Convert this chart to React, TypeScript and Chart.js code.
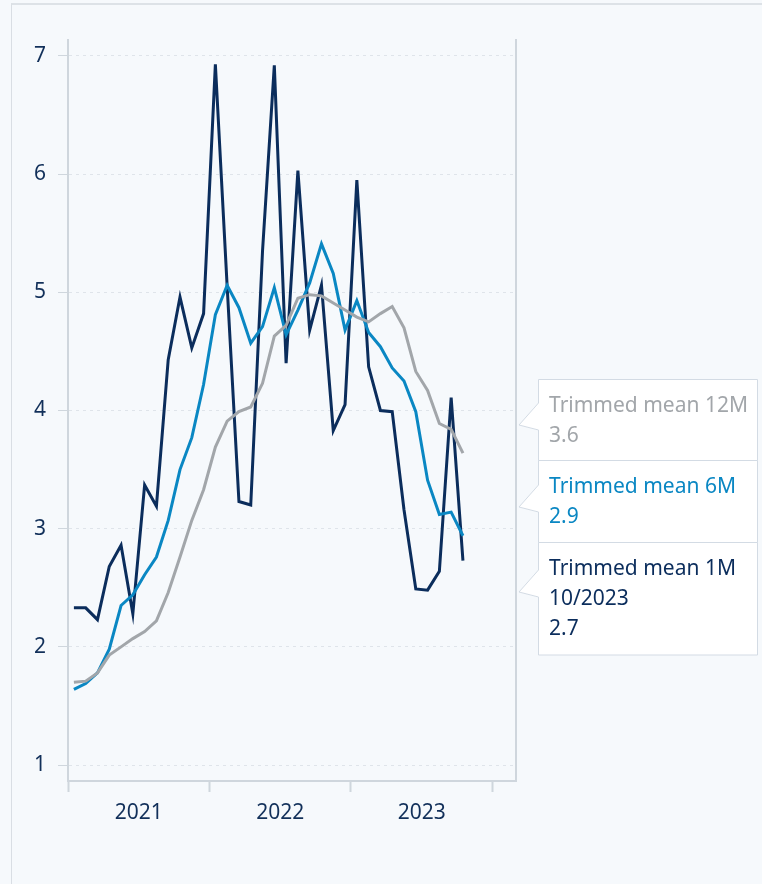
import React, { useEffect, useRef } from "react";
import { Chart, registerables } from "chart.js";

Chart.register(...registerables);

const MONTHS = [
  "01/2021", "02/2021", "03/2021", "04/2021", "05/2021", "06/2021", "07/2021", "08/2021", "09/2021", "10/2021", "11/2021", "12/2021",
  "01/2022", "02/2022", "03/2022", "04/2022", "05/2022", "06/2022", "07/2022", "08/2022", "09/2022", "10/2022", "11/2022", "12/2022",
  "01/2023", "02/2023", "03/2023", "04/2023", "05/2023", "06/2023", "07/2023", "08/2023", "09/2023", "10/2023",
];

const TRIMMED_1M = [
  2.33, 2.33, 2.23, 2.68, 2.86, 2.28, 3.37, 3.19, 4.43, 4.96, 4.53, 4.82,
  6.93, 5.05, 3.23, 3.2, 5.35, 6.92, 4.4, 6.03, 4.68, 5.06, 3.83, 4.05,
  5.95, 4.37, 4.0, 3.99, 3.16, 2.49, 2.48, 2.64, 4.11, 2.73,
];

const TRIMMED_6M = [
  1.64, 1.69, 1.78, 1.98, 2.35, 2.44, 2.61, 2.76, 3.07, 3.5, 3.77, 4.22,
  4.81, 5.06, 4.87, 4.57, 4.71, 5.04, 4.64, 4.85, 5.08, 5.41, 5.16, 4.68,
  4.93, 4.66, 4.54, 4.36, 4.25, 3.99, 3.41, 3.12, 3.14, 2.94,
];

const TRIMMED_12M = [
  1.7, 1.71, 1.78, 1.93, 2.0, 2.07, 2.13, 2.22, 2.46, 2.76, 3.07, 3.33,
  3.69, 3.91, 3.99, 4.03, 4.23, 4.63, 4.72, 4.95, 4.98, 4.97, 4.91, 4.85,
  4.79, 4.75, 4.82, 4.88, 4.7, 4.33, 4.17, 3.89, 3.84, 3.64,
];

const SERIES_NAMES = ["Trimmed mean 1M", "Trimmed mean 6M", "Trimmed mean 12M"];
const YEAR_LABELS = ["2021", "2022", "2023"];
const Y_TICKS = [1, 2, 3, 4, 5, 6, 7];

const COLOR_1M = "#0b2d5c";
const COLOR_6M = "#0a87c3";
const COLOR_12M = "#a2a6aa";
const TEXT_COLOR = "#12305a";
const AXIS_COLOR = "#cfd6dd";
const GRID_COLOR = "#dfe4ea";
const BG = "#f6f9fc";
const FONT = "'Noto Sans', sans-serif";

const toPoints = (arr: number[]) => arr.map((v, i) => ({ x: i + 0.5, y: v }));

const tooltipPlugin = {
  id: "splitTooltip",
  afterDraw(chart: any) {
    const ctx = chart.ctx as CanvasRenderingContext2D;
    const last = MONTHS.length - 1;
    const left = 538.5;
    const right = 757.5;
    const tipX = 519;
    const boxes = [
      { lines: [SERIES_NAMES[2], TRIMMED_12M[last].toFixed(1)], color: COLOR_12M, top: 379.5, bottom: 460.5, tip: 425 },
      { lines: [SERIES_NAMES[1], TRIMMED_6M[last].toFixed(1)], color: COLOR_6M, top: 460.5, bottom: 542.5, tip: 507 },
      { lines: [SERIES_NAMES[0], MONTHS[last], TRIMMED_1M[last].toFixed(1)], color: COLOR_1M, top: 542.5, bottom: 655, tip: 592 },
    ];
    ctx.save();
    for (const b of boxes) {
      ctx.beginPath();
      ctx.moveTo(left, b.top);
      ctx.lineTo(right, b.top);
      ctx.lineTo(right, b.bottom);
      ctx.lineTo(left, b.bottom);
      ctx.lineTo(left, b.tip + 5);
      ctx.lineTo(tipX, b.tip);
      ctx.lineTo(left, b.tip - 22);
      ctx.closePath();
      ctx.fillStyle = "#ffffff";
      ctx.fill();
      ctx.strokeStyle = "#d3dbe4";
      ctx.lineWidth = 1;
      ctx.stroke();
      ctx.fillStyle = b.color;
      ctx.font = `21px ${FONT}`;
      ctx.textBaseline = "middle";
      ctx.textAlign = "left";
      b.lines.forEach((t, k) => {
        ctx.fillText(t, 549, b.top + 26.5 + k * 30);
      });
    }
    ctx.restore();
  },
};

export default function App() {
  const ref = useRef<HTMLCanvasElement | null>(null);

  useEffect(() => {
    document.body.style.margin = "0";
    document.body.style.background = BG;
    if (!ref.current) return;
    const xTickValues: number[] = [];
    YEAR_LABELS.forEach((_, k) => {
      xTickValues.push(k * 12, k * 12 + 6);
    });
    xTickValues.push(YEAR_LABELS.length * 12);

    const chart = new Chart(ref.current, {
      type: "line",
      data: {
        datasets: [
          { label: SERIES_NAMES[2], data: toPoints(TRIMMED_12M), borderColor: COLOR_12M, borderWidth: 3, pointRadius: 0, tension: 0 },
          { label: SERIES_NAMES[1], data: toPoints(TRIMMED_6M), borderColor: COLOR_6M, borderWidth: 3, pointRadius: 0, tension: 0 },
          { label: SERIES_NAMES[0], data: toPoints(TRIMMED_1M), borderColor: COLOR_1M, borderWidth: 3, pointRadius: 0, tension: 0 },
        ],
      },
      options: {
        responsive: false,
        animation: false,
        events: [],
        layout: { padding: { left: 0, top: 40, right: 246, bottom: 43 } },
        plugins: { legend: { display: false }, tooltip: { enabled: false } },
        scales: {
          x: {
            type: "linear",
            min: 0,
            max: 38,
            afterBuildTicks: (scale: any) => {
              scale.ticks = xTickValues.map((v) => ({ value: v }));
            },
            afterFit: (scale: any) => {
              scale.height = 60;
            },
            ticks: {
              autoSkip: false,
              maxRotation: 0,
              padding: 8,
              color: TEXT_COLOR,
              font: { family: FONT, size: 21 },
              callback: (v: any) => {
                const n = Number(v);
                return n % 12 === 6 ? YEAR_LABELS[(n - 6) / 12] : "";
              },
            },
            grid: {
              drawOnChartArea: false,
              drawTicks: true,
              tickLength: 11,
              tickWidth: 2,
              tickColor: (c: any) => (c.tick && c.tick.value % 12 === 0 ? AXIS_COLOR : "rgba(0,0,0,0)"),
            },
            border: { display: true, color: AXIS_COLOR, width: 2 },
          },
          y: {
            type: "linear",
            min: 0.865,
            max: 7.135,
            afterBuildTicks: (scale: any) => {
              scale.ticks = Y_TICKS.map((v) => ({ value: v }));
            },
            afterFit: (scale: any) => {
              scale.width = 68;
            },
            ticks: {
              padding: 12,
              color: TEXT_COLOR,
              font: { family: FONT, size: 21 },
              callback: (v: any) => String(v),
            },
            grid: {
              color: GRID_COLOR,
              lineWidth: 1,
              drawTicks: true,
              tickLength: 10,
              tickColor: AXIS_COLOR,
              tickWidth: 1,
            },
            border: { display: true, color: AXIS_COLOR, width: 2, dash: [3, 4] },
          },
          y1: {
            type: "linear",
            position: "right",
            min: 0.865,
            max: 7.135,
            afterFit: (scale: any) => {
              scale.width = 0;
            },
            ticks: { display: false },
            grid: { display: false, drawTicks: false },
            border: { display: true, color: AXIS_COLOR, width: 2 },
          },
        },
      },
      plugins: [tooltipPlugin],
    });
    return () => chart.destroy();
  }, []);

  return (
    <div style={{ position: "relative", width: 762, height: 884, background: BG, overflow: "hidden" }}>
      <div
        style={{
          position: "absolute",
          left: 11,
          top: 3,
          right: 0,
          bottom: 0,
          borderLeft: "1px solid #d9dee4",
          borderTop: "2px solid #dde2e7",
          background: BG,
        }}
      />
      <canvas ref={ref} width={762} height={884} style={{ position: "absolute", left: 0, top: 0, display: "block" }} />
    </div>
  );
}
